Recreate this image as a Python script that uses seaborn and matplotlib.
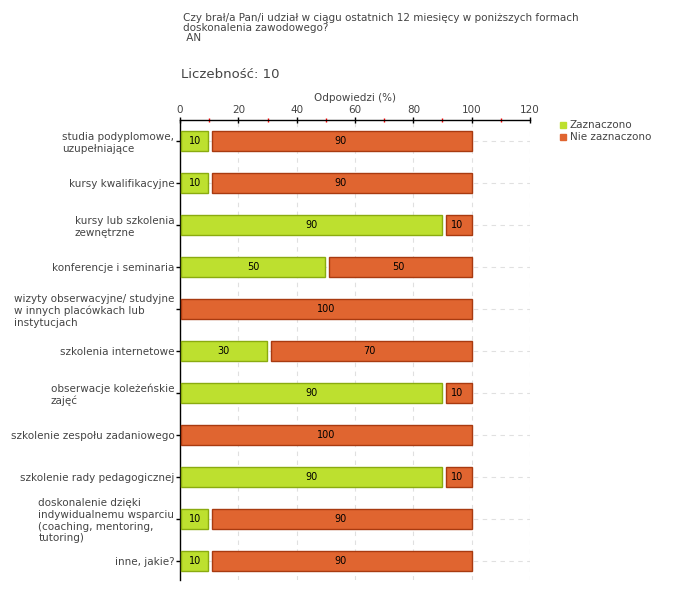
import matplotlib
matplotlib.use("Agg")
import matplotlib.pyplot as plt
import seaborn as sns
import pandas as pd
from matplotlib.ticker import MultipleLocator
from matplotlib.lines import Line2D

categories = [
    "studia podyplomowe,\nuzupełniające",
    "kursy kwalifikacyjne",
    "kursy lub szkolenia\nzewnętrzne",
    "konferencje i seminaria",
    "wizyty obserwacyjne/ studyjne\nw innych placówkach lub\ninstytucjach",
    "szkolenia internetowe",
    "obserwacje koleżeńskie\nzajęć",
    "szkolenie zespołu zadaniowego",
    "szkolenie rady pedagogicznej",
    "doskonalenie dzięki\nindywidualnemu wsparciu\n(coaching, mentoring,\ntutoring)",
    "inne, jakie?",
]
zaznaczono = [10, 10, 90, 50, 0, 30, 90, 0, 90, 10, 10]
nie_zaznaczono = [90, 90, 10, 50, 100, 70, 10, 100, 10, 90, 90]
series_names = ["Zaznaczono", "Nie zaznaczono"]
x_ticks = [0, 20, 40, 60, 80, 100, 120]

sns.set_style("white")
plt.rcParams["font.family"] = ["DejaVu Sans"]

green, green_edge = "#bde02f", "#8aab10"
orange, orange_edge = "#e06530", "#a83a10"
txt = "#444444"

df = pd.DataFrame({"cat": categories, "z": zaznaczono, "n": nie_zaznaczono})

fig = plt.figure(figsize=(6.8, 6.0), dpi=100)
ax = fig.add_axes([180 / 680, 20 / 600, 350 / 680, 460 / 600])

sns.barplot(data=df, x="z", y="cat", orient="h", color=green, edgecolor=green_edge,
            linewidth=1, width=0.48, ax=ax, saturation=1, zorder=3)
green_patches = list(ax.patches)
orange_bars = ax.barh(range(len(categories)), nie_zaznaczono, left=zaznaczono, height=0.48,
                      color=orange, edgecolor=orange_edge, linewidth=1, zorder=3)

# small visual gaps between spine and segments (style only)
for p, z in zip(green_patches, zaznaczono):
    if z > 0:
        p.set_x(p.get_x() + 0.3)
        p.set_width(p.get_width() - 0.6)
    else:
        p.set_visible(False)
for p, z in zip(orange_bars.patches, zaznaczono):
    inset = 1.1 if z > 0 else 0.3
    p.set_x(p.get_x() + inset)
    p.set_width(p.get_width() - inset)

for i, (z, n) in enumerate(zip(zaznaczono, nie_zaznaczono)):
    if z > 0:
        ax.text(z / 2, i, str(z), ha="center", va="center", fontsize=7, color="black", zorder=4)
    if n > 0:
        ax.text(z + n / 2, i, str(n), ha="center", va="center", fontsize=7, color="black", zorder=4)

ax.set_xlim(0, 120)
ax.set_ylim(len(categories) - 0.55, -0.5)
ax.xaxis.tick_top()
ax.xaxis.set_label_position("top")
ax.set_xticks(x_ticks)
ax.xaxis.set_minor_locator(MultipleLocator(10))
ax.tick_params(axis="x", which="major", length=5, width=1, color="black", labelsize=7.5,
               labelcolor=txt, pad=1, direction="inout")
ax.tick_params(axis="x", which="minor", length=3, width=1, color="red", direction="inout")
ax.tick_params(axis="y", length=3, width=1, color="black", labelsize=7.5, labelcolor=txt, pad=1, left=True)
for lab in ax.get_yticklabels():
    lab.set_multialignment("left")
ax.set_xlabel("Odpowiedzi (%)", fontsize=7.5, color=txt, labelpad=3)
ax.set_ylabel("")

ax.grid(True, axis="both", linestyle=(0, (4, 4)), color="#e0e0e0", linewidth=0.8, zorder=0)
ax.set_axisbelow(True)
for s in ["right", "bottom"]:
    ax.spines[s].set_visible(False)
for s in ["left", "top"]:
    ax.spines[s].set_color("black")
    ax.spines[s].set_linewidth(1)

fig.text(183 / 680, 1 - 13 / 600,
         "Czy brał/a Pan/i udział w ciągu ostatnich 12 miesięcy w poniższych formach\ndoskonalenia zawodowego?\n AN",
         fontsize=7.5, color=txt, va="top", ha="left", linespacing=1.0)
fig.text(181 / 680, 1 - 75 / 600, "Liczebność: 10", fontsize=9.5, color=txt, va="center", ha="left")

handles = [Line2D([0], [0], marker="s", linestyle="none", markersize=5, markerfacecolor=green,
                  markeredgecolor=green),
           Line2D([0], [0], marker="s", linestyle="none", markersize=5, markerfacecolor=orange,
                  markeredgecolor=orange)]
fig.legend(handles, series_names, loc="upper left", bbox_to_anchor=(553 / 680, 1 - 115 / 600),
           frameon=False, fontsize=7.5, labelcolor=txt, handletextpad=0.1, borderpad=0,
           labelspacing=0.2, handlelength=1.0)

fig.savefig("out.png", dpi=100)
